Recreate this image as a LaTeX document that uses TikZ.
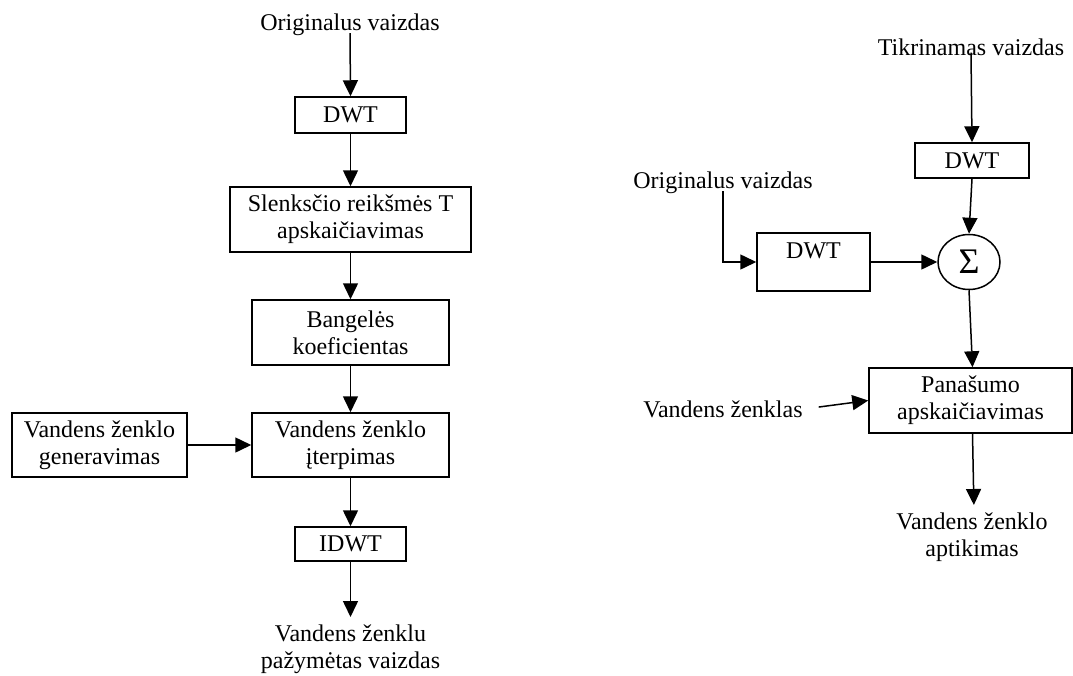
\documentclass[tikz,border=0pt]{standalone}
\usepackage{fontspec}
\setmainfont{Liberation Serif}
\usetikzlibrary{arrows.meta,shapes.geometric}
\begin{document}
\begin{tikzpicture}[x=1pt,y=-1pt,
  every node/.style={font=\fontsize{24}{27}\selectfont, align=center, inner sep=2pt},
  block/.style={draw, line width=1.5pt, inner sep=0pt},
  txt/.style={inner sep=1pt},
  flow/.style={line width=1.5pt, -{Triangle[length=16pt,width=15pt]}}]
\useasboundingbox (0,0) rectangle (1073,675);

% embedding scheme
\node[txt] (o1) at (350,25) {Originalus vaizdas};
\node[block, minimum width=111, minimum height=36] (dwt1) at (350.5,115) {DWT};
\node[block, minimum width=241, minimum height=65] (slen) at (350.5,219.5) {Slenksčio reikšmės T\\apskaičiavimas};
\node[block, minimum width=197, minimum height=65] (bang) at (350.5,332.5) {Bangelės\\koeficientas};
\node[block, minimum width=197, minimum height=64] (iter) at (350.5,445) {Vandens ženklo\\įterpimas};
\node[block, minimum width=175, minimum height=64] (gen) at (99.5,445) {Vandens ženklo\\generavimas};
\node[block, minimum width=111, minimum height=34] (idwt) at (350.5,544) {IDWT};
\node[txt, anchor=north] (out1) at (350.5,624) {Vandens ženklu\\pažymėtas vaizdas};

\draw[flow] ([yshift=4]o1.south) -- (dwt1.north);
\draw[flow] (dwt1.south) -- (slen.north);
\draw[flow] (slen.south) -- (bang.north);
\draw[flow] (bang.south) -- (iter.north);
\draw[flow] (gen.east) -- (iter.west);
\draw[flow] (iter.south) -- (idwt.north);
\draw[flow, shorten >=7pt] (idwt.south) -- (out1.north);

% detection scheme
\node[txt] (tik) at (971,47) {Tikrinamas vaizdas};
\node[block, minimum width=114, minimum height=35] (dwt2) at (972,160.5) {DWT};
\node[block, ellipse, minimum width=62, minimum height=55, font=\fontsize{36}{36}\selectfont] (sig) at (969,262) {Σ};
\node[txt] (o2) at (723,183) {Originalus vaizdas};
\node[block, minimum width=113, minimum height=58] (dwt3) at (813.5,262) {};
\node[txt] (dwt3t) at ([yshift=-19]dwt3.north) {DWT};
\node[block, minimum width=203, minimum height=65] (panas) at (970.5,400.5) {Panašumo\\apskaičiavimas};
\node[txt] (vz) at (723,409) {Vandens ženklas};
\node[txt, anchor=north] (out2) at (972,512) {Vandens ženklo\\aptikimas};

\draw[flow] ([yshift=4]tik.south) -- (dwt2.north);
\draw[flow] (dwt2.south) -- (sig.north);
\draw[flow] ([yshift=4]o2.south) |- (dwt3.west);
\draw[flow] (dwt3.east) -- (sig.west);
\draw[flow] (sig.south) -- ([xshift=2]panas.north);
\draw[flow, shorten <=15pt] (vz.east) -- (panas.west);
\draw[flow, shorten >=7pt] ([xshift=2]panas.south) -- ([xshift=2]out2.north);
\end{tikzpicture}
\end{document}
